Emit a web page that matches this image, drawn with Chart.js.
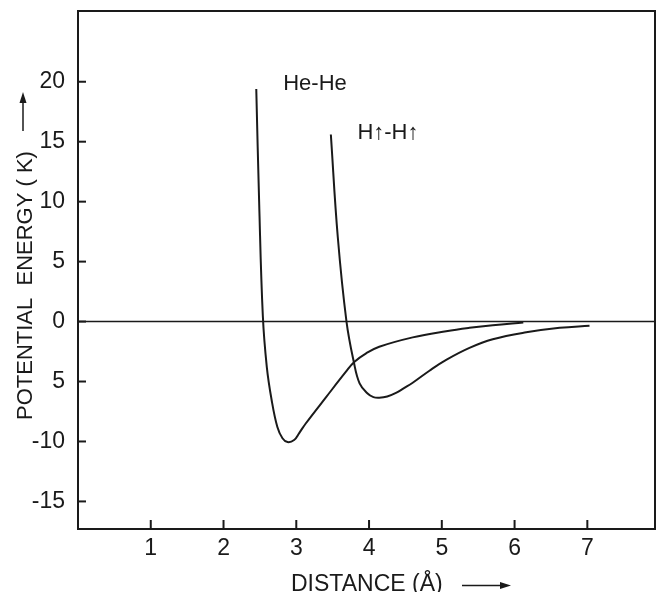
<!DOCTYPE html>
<html>
<head>
<meta charset="utf-8">
<script src="https://cdn.jsdelivr.net/npm/chart.js@4/dist/chart.umd.min.js"></script>
<style>
  body { margin: 0; background: #fff; }
</style>
</head>
<body>
<canvas id="potChart" width="657" height="592"></canvas>
<script>
// He-He pair potential (distance in Angstrom, energy in K)
const heDist   = [2.45, 2.49, 2.54, 2.595, 2.66, 2.74, 2.81, 2.88, 2.97, 3.04, 3.13, 3.41, 3.68, 3.80, 3.96, 4.14, 4.60, 5.06, 5.38, 5.70, 6.12];
const heEnergy = [19.4, 9.85, 0.5, -3.8, -6.5, -8.8, -9.73, -10.05, -9.88, -9.3, -8.5, -6.3, -4.2, -3.35, -2.65, -2.1, -1.32, -0.8, -0.52, -0.3, -0.08];

// H(up)-H(up) pair potential
const hDist   = [3.475, 3.57, 3.69, 3.79, 3.87, 3.98, 4.06, 4.14, 4.25, 4.37, 4.48, 4.60, 4.83, 5.06, 5.38, 5.70, 6.16, 6.62, 7.03];
const hEnergy = [15.6, 7.07, 0, -3.35, -5.15, -6.0, -6.3, -6.35, -6.25, -5.95, -5.55, -5.1, -4.1, -3.2, -2.2, -1.48, -0.9, -0.52, -0.35];

const xTickValues = [1, 2, 3, 4, 5, 6, 7];
const xTickLabels = ["1", "2", "3", "4", "5", "6", "7"];
const yTickValues = [-15, -10, -5, 0, 5, 10, 15, 20];
const yTickLabels = ["-15", "-10", "5", "0", "5", "10", "15", "20"]; // as printed (minus lost on -5)

const curveNames = ["He-He", "H\u2191-H\u2191"];

const ink = "#1a1a1a";

function toPoints(xs, ys) {
  return xs.map((x, i) => ({ x: x, y: ys[i] }));
}

// frame, inward ticks, zero line, curve labels and axis titles
const decorations = {
  id: "decorations",
  afterDraw(chart) {
    const ctx = chart.ctx;
    const a = chart.chartArea;
    const xs = chart.scales.x;
    const ys = chart.scales.y;
    ctx.save();
    ctx.strokeStyle = ink;
    ctx.fillStyle = ink;

    // zero line
    ctx.lineWidth = 1.5;
    const y0 = ys.getPixelForValue(0);
    ctx.beginPath();
    ctx.moveTo(a.left, y0);
    ctx.lineTo(a.right, y0);
    ctx.stroke();

    // frame
    ctx.lineWidth = 2;
    ctx.strokeRect(a.left, a.top, a.right - a.left, a.bottom - a.top);

    // inward tick marks
    xTickValues.forEach(v => {
      const px = xs.getPixelForValue(v);
      ctx.beginPath();
      ctx.moveTo(px, a.bottom);
      ctx.lineTo(px, a.bottom - 9);
      ctx.stroke();
    });
    yTickValues.forEach(v => {
      const py = ys.getPixelForValue(v);
      ctx.beginPath();
      ctx.moveTo(a.left, py);
      ctx.lineTo(a.left + 8, py);
      ctx.stroke();
    });

    // curve labels
    ctx.font = "22px 'Liberation Sans', Arial, sans-serif";
    ctx.textAlign = "left";
    ctx.textBaseline = "middle";
    ctx.fillText(curveNames[0], xs.getPixelForValue(2.82), ys.getPixelForValue(19.8));
    ctx.fillText(curveNames[1], xs.getPixelForValue(3.84), ys.getPixelForValue(15.7));

    // x axis title with arrow
    ctx.font = "23px 'Liberation Sans', Arial, sans-serif";
    ctx.textBaseline = "alphabetic";
    ctx.fillText("DISTANCE (\u00C5)", 291, 591);
    ctx.lineWidth = 1.5;
    ctx.beginPath();
    ctx.moveTo(462, 585.5);
    ctx.lineTo(502, 585.5);
    ctx.stroke();
    ctx.beginPath();
    ctx.moveTo(511, 585.5);
    ctx.lineTo(500, 582);
    ctx.lineTo(500, 589);
    ctx.closePath();
    ctx.fill();

    // y axis title with arrow
    ctx.font = "22px 'Liberation Sans', Arial, sans-serif";
    ctx.save();
    ctx.translate(31.5, 420);
    ctx.rotate(-Math.PI / 2);
    ctx.fillText("POTENTIAL  ENERGY ( K)", 0, 0);
    ctx.restore();
    ctx.beginPath();
    ctx.moveTo(23, 131);
    ctx.lineTo(23, 102);
    ctx.stroke();
    ctx.beginPath();
    ctx.moveTo(23, 92);
    ctx.lineTo(19.5, 103);
    ctx.lineTo(26.5, 103);
    ctx.closePath();
    ctx.fill();

    ctx.restore();
  }
};

const ctx = document.getElementById("potChart").getContext("2d");
const potChart = new Chart(ctx, {
  type: "scatter",
  data: {
    datasets: [
      {
        label: curveNames[0],
        data: toPoints(heDist, heEnergy),
        showLine: true,
        borderColor: ink,
        borderWidth: 2,
        pointRadius: 0,
        tension: 0.4,
      },
      {
        label: curveNames[1],
        data: toPoints(hDist, hEnergy),
        showLine: true,
        borderColor: ink,
        borderWidth: 2,
        pointRadius: 0,
        tension: 0.4,
      },
    ],
  },
  options: {
    responsive: false,
    animation: false,
    layout: { padding: { top: 11, right: 2, left: 0, bottom: 0 } },
    plugins: {
      legend: { display: false },
      tooltip: { enabled: false },
    },
    scales: {
      x: {
        type: "linear",
        min: 0,
        max: 7.93,
        grid: { display: false, drawTicks: false },
        border: { display: false },
        afterBuildTicks: (scale) => { scale.ticks = xTickValues.map(v => ({ value: v })); },
        afterFit: (scale) => {
          scale.height = 63;
          scale.paddingLeft = 0;
          scale.paddingRight = 0;
        },
        ticks: {
          color: ink,
          padding: 6,
          maxRotation: 0,
          autoSkip: false,
          font: { family: "'Liberation Sans', Arial, sans-serif", size: 23 },
          callback: (value, index) => xTickLabels[index],
        },
      },
      y: {
        type: "linear",
        min: -17.3,
        max: 25.9,
        grid: { display: false, drawTicks: false },
        border: { display: false },
        afterBuildTicks: (scale) => { scale.ticks = yTickValues.map(v => ({ value: v })); },
        afterFit: (scale) => {
          scale.width = 78;
          scale.paddingTop = 0;
          scale.paddingBottom = 0;
        },
        ticks: {
          color: ink,
          padding: 13,
          autoSkip: false,
          font: { family: "'Liberation Sans', Arial, sans-serif", size: 23 },
          callback: (value, index) => yTickLabels[index],
        },
      },
    },
  },
  plugins: [decorations],
});
</script>
</body>
</html>
